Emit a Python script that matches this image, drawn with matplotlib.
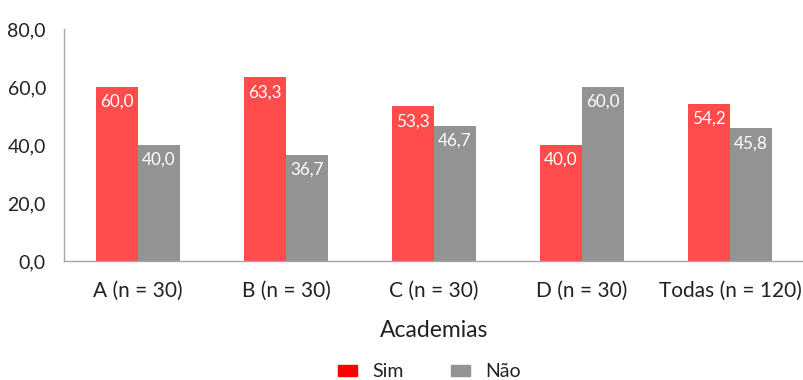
import matplotlib
matplotlib.use("Agg")
import matplotlib.pyplot as plt
from matplotlib.patches import Patch
import numpy as np

plt.rcParams["font.family"] = ["Lato", "DejaVu Sans"]

categories = ["A (n = 30)", "B (n = 30)", "C (n = 30)", "D (n = 30)", "Todas (n = 120)"]
sim = [60.0, 63.3, 53.3, 40.0, 54.2]
nao = [40.0, 36.7, 46.7, 60.0, 45.8]
yticks = [0, 20, 40, 60, 80]

RED = "#ff4b4b"
GREY = "#939396"
TXT = "#222222"


def fmt(v):
    return f"{v:.1f}".replace(".", ",")


fig = plt.figure(figsize=(8.04, 3.8), dpi=100)
ax = fig.add_axes([64 / 804, 1 - 261 / 380, (804 - 64) / 804, 232 / 380])

x = np.arange(len(categories))
w = 0.285
b1 = ax.bar(x - w / 2, sim, w, color=RED)
b2 = ax.bar(x + w / 2, nao, w, color=GREY)

for bars, vals in ((b1, sim), (b2, nao)):
    for r, v in zip(bars, vals):
        ax.text(r.get_x() + r.get_width() / 2, v - 2.4, fmt(v), ha="center", va="top",
                color="white", fontsize=12.3)

ax.set_xlim(-0.5, len(categories) - 0.5)
ax.set_ylim(0, 80)
ax.set_yticks(yticks)
ax.set_yticklabels([fmt(v) for v in yticks], fontsize=14, color=TXT)
ax.set_xticks(x)
ax.set_xticklabels(categories, fontsize=15, color=TXT)
ax.tick_params(axis="x", length=0, pad=14)
ax.tick_params(axis="y", length=0, pad=13)
for s in ("top", "right"):
    ax.spines[s].set_visible(False)
for s in ("left", "bottom"):
    ax.spines[s].set_color("#a6a6a6")
    ax.spines[s].set_linewidth(1)

ax.set_xlabel("Academias", fontsize=16.5, color=TXT, labelpad=14)

handles = [Patch(color="#ff0000", label="Sim"), Patch(color=GREY, label="Não")]
fig.legend(handles=handles, loc="center", bbox_to_anchor=(0.534, 0.022), ncol=2,
           frameon=False, fontsize=14, handlelength=1.0, handleheight=0.5,
           handletextpad=0.8, columnspacing=2.4, labelcolor=TXT)

fig.savefig("out.png", dpi=100)
